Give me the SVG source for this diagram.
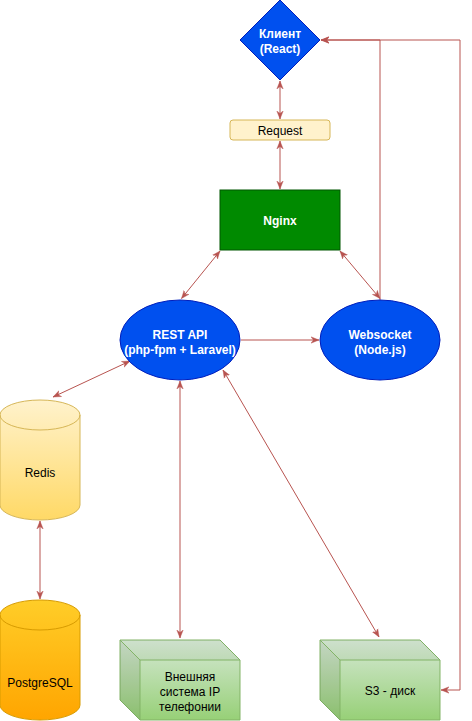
<svg xmlns="http://www.w3.org/2000/svg" width="472" height="721" viewBox="0 0 472 721">
<style>
text{font-family:"Liberation Sans",Arial,sans-serif;font-size:12px;text-anchor:middle}
.w{fill:#ffffff;font-weight:bold}
.k{fill:#000000}
.c{fill:none;stroke:#b85450;stroke-width:1}
.blue{fill:#0050ef;stroke:#001dbc}
</style>
<defs>
<marker id="ar" viewBox="0 0 10 10" refX="10" refY="5" markerWidth="8" markerHeight="8" markerUnits="userSpaceOnUse" orient="auto-start-reverse">
<path d="M0,1 L10,5 L0,9 L3,5 Z" fill="#b85450" stroke="#b85450" stroke-width="0.5"/>
</marker>
<linearGradient id="gRedis" x1="0" y1="0" x2="0" y2="1"><stop offset="0" stop-color="#fff2cc"/><stop offset="1" stop-color="#ffd966"/></linearGradient>
<linearGradient id="gPg" x1="0" y1="0" x2="0" y2="1"><stop offset="0" stop-color="#ffcd28"/><stop offset="1" stop-color="#ffa500"/></linearGradient>
<linearGradient id="gCube" x1="0" y1="0" x2="0" y2="1"><stop offset="0" stop-color="#d5e8d4"/><stop offset="1" stop-color="#97d077"/></linearGradient>
</defs>

<g id="connectors">
<line class="c" x1="280" y1="81" x2="280" y2="119" marker-start="url(#ar)" marker-end="url(#ar)"/>
<line class="c" x1="280" y1="141" x2="280" y2="189" marker-start="url(#ar)" marker-end="url(#ar)"/>
<line class="c" x1="220" y1="251" x2="181.5" y2="298.5" marker-start="url(#ar)" marker-end="url(#ar)"/>
<line class="c" x1="340" y1="251" x2="380" y2="298.5" marker-start="url(#ar)" marker-end="url(#ar)"/>
<path class="c" d="M380,300 V40 H321" marker-end="url(#ar)"/>
<path class="c" d="M441,690 H460 V40 H321" marker-start="url(#ar)" marker-end="url(#ar)"/>
<line class="c" x1="241" y1="340" x2="319" y2="340" marker-end="url(#ar)"/>
<line class="c" x1="130" y1="361" x2="53" y2="397" marker-start="url(#ar)" marker-end="url(#ar)"/>
<line class="c" x1="180" y1="381" x2="180" y2="638" marker-start="url(#ar)" marker-end="url(#ar)"/>
<line class="c" x1="223" y1="370" x2="379" y2="637" marker-start="url(#ar)" marker-end="url(#ar)"/>
<line class="c" x1="40" y1="521" x2="40" y2="599" marker-start="url(#ar)" marker-end="url(#ar)"/>
</g>

<g id="client">
<polygon class="blue" points="280,0 320,40 280,80 240,40"/>
<text class="w" x="280" y="38">Клиент</text>
<text class="w" x="280" y="53">(React)</text>
</g>

<g id="request">
<rect x="230" y="120" width="100" height="20" rx="3" fill="#fff2cc" stroke="#d6b656"/>
<text class="k" x="280" y="134.5">Request</text>
</g>

<g id="nginx">
<rect x="220" y="190" width="120" height="60" fill="#008a00" stroke="#005700"/>
<text class="w" x="280" y="225">Nginx</text>
</g>

<g id="restapi">
<ellipse class="blue" cx="180" cy="340" rx="60" ry="40"/>
<text class="w" x="180" y="338.5">REST API</text>
<text class="w" x="180" y="353.5">(php-fpm + Laravel)</text>
</g>

<g id="websocket">
<ellipse class="blue" cx="380" cy="340" rx="60" ry="40"/>
<text class="w" x="380" y="338.5">Websocket</text>
<text class="w" x="380" y="353.5">(Node.js)</text>
</g>

<g id="redis">
<path d="M0,415 A40,15 0 0 1 80,415 V505 A40,15 0 0 1 0,505 Z" fill="url(#gRedis)" stroke="#d6b656"/>
<path d="M0,415 A40,15 0 0 0 80,415" fill="none" stroke="#d6b656"/>
<text class="k" x="40" y="477">Redis</text>
</g>

<g id="postgresql">
<path d="M0,615 A40,15 0 0 1 80,615 V705 A40,15 0 0 1 0,705 Z" fill="url(#gPg)" stroke="#d79b00"/>
<path d="M0,615 A40,15 0 0 0 80,615" fill="none" stroke="#d79b00"/>
<text class="k" x="40" y="687">PostgreSQL</text>
</g>

<g id="ip-telephony">
<path d="M120,640 H220 L240,660 V720 H140 L120,700 Z" fill="url(#gCube)" stroke="#82b366"/>
<path d="M120,640 L140,660 V720 L120,700 Z" fill="#000" fill-opacity="0.08"/>
<path d="M120,640 H220 L240,660 H140 Z" fill="#000" fill-opacity="0.03"/>
<path d="M120,640 L140,660 H240 M140,660 V720" fill="none" stroke="#82b366"/>
<text class="k" x="190" y="681">Внешняя</text>
<text class="k" x="190" y="696">система IP</text>
<text class="k" x="190" y="711">телефонии</text>
</g>

<g id="s3">
<path d="M320,640 H420 L440,660 V720 H340 L320,700 Z" fill="url(#gCube)" stroke="#82b366"/>
<path d="M320,640 L340,660 V720 L320,700 Z" fill="#000" fill-opacity="0.08"/>
<path d="M320,640 H420 L440,660 H340 Z" fill="#000" fill-opacity="0.03"/>
<path d="M320,640 L340,660 H440 M340,660 V720" fill="none" stroke="#82b366"/>
<text class="k" x="390" y="695">S3 - диск</text>
</g>
</svg>
